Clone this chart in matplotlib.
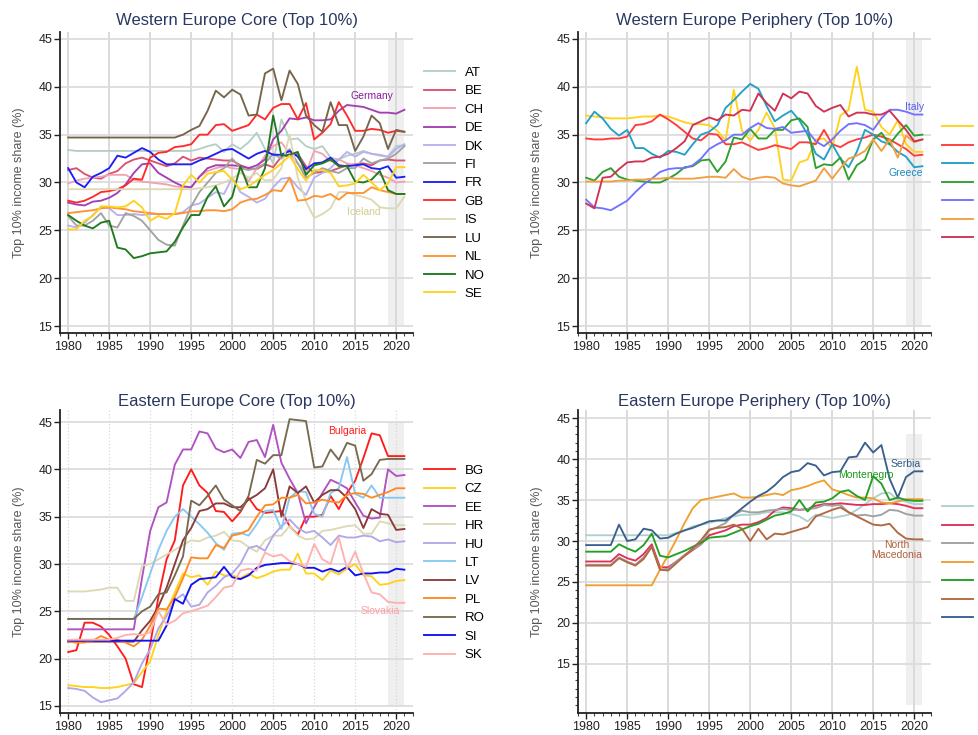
import matplotlib
matplotlib.use('Agg')
import matplotlib.pyplot as plt
from matplotlib.ticker import MultipleLocator

plt.rcParams['font.family'] = ['Liberation Sans', 'DejaVu Sans']

years = list(range(1980, 2022))

# ---- Western Europe Core ----
we_core_labels = ['AT', 'BE', 'CH', 'DE', 'DK', 'FI', 'FR', 'GB', 'IS', 'LU', 'NL', 'NO', 'SE']
AT = [33.4, 33.3, 33.3, 33.3, 33.3, 33.3, 33.3, 33.3, 33.3, 33.3,
      33.3, 33.3, 33.3, 33.3, 33.3, 33.3, 33.5, 33.8, 34.0, 33.2,
      34.0, 33.5, 34.2, 35.2, 33.5, 32.0, 36.6, 34.5, 34.6, 33.8,
      33.5, 33.8, 32.6, 32.4, 32.8, 33.0, 33.3, 33.0, 32.8, 32.7,
      33.8, 33.9]
BE = [31.3, 31.5, 30.9, 30.5, 30.4, 30.9, 31.2, 32.0, 32.4, 32.6,
      32.3, 32.0, 31.7, 32.0, 32.7, 32.3, 32.6, 32.5, 32.4, 32.3,
      32.3, 31.8, 31.5, 31.4, 31.9, 31.6, 32.7, 32.8, 33.0, 31.7,
      31.0, 31.1, 31.2, 31.5, 31.8, 31.9, 32.0, 31.8, 32.3, 32.4,
      32.3, 32.3]
CH = [29.9, 30.2, 30.4, 30.5, 30.6, 30.8, 30.8, 30.8, 30.3, 30.1,
      30.0, 29.9, 29.8, 29.6, 29.5, 29.5, 30.6, 31.2, 31.5, 31.7,
      31.5, 31.4, 30.1, 31.5, 32.8, 33.8, 34.2, 33.0, 32.0, 31.0,
      33.3, 33.0, 32.2, 32.4, 32.0, 31.8, 31.5, 31.2, 30.8, 30.5,
      30.0, 30.1]
DE = [27.9, 27.7, 27.6, 28.0, 28.1, 28.4, 28.9, 29.8, 31.0, 31.9,
      32.0, 31.0, 30.5, 30.0, 29.6, 29.5, 30.6, 31.5, 31.8, 31.8,
      31.8, 31.7, 31.5, 31.8, 32.4, 34.5, 35.4, 36.7, 36.6, 36.8,
      36.5, 36.5, 36.6, 37.5, 38.1, 38.0, 37.9, 37.6, 37.3, 37.3,
      37.2, 37.6]
DK = [25.5, 25.3, 25.8, 26.6, 27.4, 27.3, 26.6, 26.6, 26.7, 26.6,
      26.7, 26.7, 26.7, 26.7, 26.9, 27.6, 27.8, 28.4, 29.0, 28.8,
      30.5, 29.0, 28.5, 27.9, 28.3, 29.5, 30.4, 30.5, 29.5, 28.7,
      30.5, 31.0, 31.5, 32.4, 33.2, 32.7, 33.2, 33.0, 32.9, 32.7,
      33.5, 34.0]
FI = [26.5, 25.5, 25.5, 26.0, 26.8, 25.5, 25.3, 26.8, 26.5, 26.0,
      25.0, 24.0, 23.5, 23.4, 25.5, 27.5, 29.0, 30.0, 31.0, 31.5,
      32.5, 31.5, 31.3, 31.5, 32.0, 33.0, 32.5, 33.5, 32.0, 30.5,
      31.0, 31.5, 31.2, 31.0, 31.5, 31.5, 32.5, 32.0, 32.3, 32.5,
      33.0, 33.8]
FR = [31.5, 30.0, 29.5, 30.6, 31.0, 31.5, 32.8, 32.6, 33.1, 33.6,
      33.2, 32.4, 31.9, 31.9, 31.9, 31.9, 32.3, 32.6, 33.0, 33.4,
      33.5, 33.0, 32.5, 33.0, 33.3, 32.9, 32.9, 33.3, 32.7, 31.4,
      32.0, 32.1, 32.6, 31.8, 31.7, 31.8, 31.9, 31.5, 31.4, 31.7,
      30.5, 30.6]
GB = [28.1, 27.9, 28.1, 28.5, 29.0, 29.1, 29.3, 29.7, 30.4, 30.3,
      32.6, 33.1, 33.2, 33.7, 33.8, 34.0, 35.0, 35.0, 36.0, 36.1,
      35.4, 35.7, 36.0, 37.1, 36.6, 37.8, 38.2, 38.2, 36.6, 38.3,
      34.5, 35.2, 36.1, 38.4, 37.0, 35.4, 35.4, 35.6, 35.5, 35.2,
      35.4, 35.3]
IS = [29.3, 29.3, 29.3, 29.3, 29.3, 29.3, 29.3, 29.3, 29.3, 29.3,
      29.3, 29.3, 29.3, 29.3, 29.3, 29.3, 29.4, 29.5, 29.7, 30.0,
      30.4, 31.0, 30.5, 31.0, 30.2, 30.3, 31.5, 35.0, 30.5, 28.0,
      26.3, 26.7, 27.3, 29.0, 29.0, 28.7, 28.5, 28.2, 27.4, 27.3,
      27.3, 28.5]
LU = [34.7, 34.7, 34.7, 34.7, 34.7, 34.7, 34.7, 34.7, 34.7, 34.7,
      34.7, 34.7, 34.7, 34.7, 35.0, 35.5, 35.9, 37.5, 39.6, 38.9,
      39.7, 39.2, 37.0, 37.1, 41.4, 41.9, 38.6, 41.7, 40.3, 37.0,
      36.0, 35.3, 38.4, 36.0, 36.0, 33.3, 34.8, 37.0, 36.2, 33.5,
      35.5, 35.3]
NL = [26.8, 26.9, 27.0, 27.1, 27.3, 27.4, 27.3, 27.2, 27.0, 26.9,
      26.8, 26.7, 26.7, 26.7, 26.8, 27.0, 27.0, 27.1, 27.1, 27.0,
      27.2, 27.9, 28.2, 28.3, 28.7, 29.2, 29.1, 30.5, 28.1, 28.2,
      28.6, 28.5, 28.8, 28.2, 28.9, 28.9, 28.9, 29.5, 29.2, 29.0,
      28.8, 28.8]
NO = [26.6, 26.0, 25.5, 25.2, 25.8, 26.0, 23.2, 23.0, 22.1, 22.3,
      22.6, 22.7, 22.8, 23.8, 25.3, 26.6, 26.6, 28.5, 29.6, 27.5,
      28.5, 31.7, 29.5, 29.5, 31.5, 37.0, 32.8, 32.9, 33.2, 30.8,
      31.8, 32.0, 32.4, 31.7, 31.7, 30.1, 30.0, 30.3, 31.2, 29.2,
      28.8, 28.8]
SE = [25.1, 25.1, 26.0, 26.5, 27.5, 27.5, 27.4, 27.5, 28.1, 27.4,
      26.0, 26.5, 26.2, 26.8, 29.7, 30.8, 30.0, 30.9, 31.1, 31.2,
      30.3, 29.3, 29.6, 30.2, 30.8, 31.3, 32.0, 32.8, 31.4, 30.2,
      31.3, 31.3, 31.0, 29.6, 29.7, 29.9, 30.8, 30.0, 29.2, 29.9,
      31.6, 31.6]

# ---- Western Europe Periphery ----
we_peri_labels = ['CY', 'ES', 'GR', 'IE', 'IT', 'MT', 'PT']
CY = [37.0, 36.9, 36.8, 36.7, 36.7, 36.7, 36.8, 36.9, 36.9, 37.0,
      36.9, 36.6, 36.3, 36.1, 36.1, 36.0, 35.4, 34.4, 39.7, 35.4,
      34.4, 35.5, 37.3, 35.7, 30.3, 30.2, 32.1, 32.4, 34.5, 34.6,
      33.6, 37.0, 37.6, 42.1, 37.6, 37.4, 35.8, 35.0, 36.5, 34.0,
      33.2, 33.2]
ES = [34.6, 34.5, 34.5, 34.6, 34.6, 34.8, 36.0, 36.1, 36.4, 37.1,
      36.6, 36.0, 35.3, 34.6, 34.4, 35.1, 35.0, 34.0, 34.0, 34.2,
      33.8, 33.4, 33.6, 33.9, 33.7, 33.5, 34.2, 34.2, 34.0, 35.5,
      34.0, 33.7, 34.2, 34.5, 34.7, 35.0, 34.8, 34.5, 34.0, 33.5,
      32.8, 32.9]
GR = [36.2, 37.4, 36.7, 35.6, 34.9, 35.5, 33.6, 33.6, 33.0, 32.6,
      33.3, 33.2, 32.9, 34.0, 35.0, 35.3, 36.0, 37.8, 38.6, 39.5,
      40.3, 39.8, 38.0, 36.4, 37.0, 37.5, 36.5, 35.0, 33.0, 32.4,
      34.0, 32.5, 31.6, 33.2, 35.5, 35.0, 34.3, 34.0, 33.2, 32.7,
      31.6, 31.7]
IE = [30.5, 30.2, 31.1, 31.5, 30.6, 30.3, 30.2, 30.1, 30.0, 30.0,
      30.4, 30.9, 31.6, 31.7, 32.3, 32.4, 31.1, 32.2, 34.7, 34.5,
      35.6, 34.6, 34.6, 35.5, 35.5, 36.5, 36.7, 35.8, 31.5, 31.9,
      31.8, 32.6, 30.3, 31.8, 32.4, 34.5, 35.2, 34.0, 35.1, 36.0,
      34.9, 35.0]
IT = [28.2, 27.4, 27.3, 27.1, 27.6, 28.1, 29.0, 29.8, 30.4, 31.1,
      31.4, 31.5, 31.5, 31.8, 32.5, 33.5, 34.0, 34.4, 35.0, 35.0,
      35.7, 36.2, 35.7, 35.6, 35.8, 35.2, 35.3, 35.4, 34.3, 33.8,
      34.5, 35.4, 36.1, 36.2, 36.0, 35.5, 36.7, 37.6, 37.6, 37.4,
      37.1, 37.1]
MT = [30.1, 30.1, 30.1, 30.1, 30.2, 30.2, 30.3, 30.3, 30.4, 30.4,
      30.5, 30.4, 30.4, 30.4, 30.5, 30.6, 30.6, 30.5, 31.4, 30.6,
      30.3, 30.5, 30.6, 30.5, 29.9, 29.7, 29.6, 29.9, 30.2, 31.5,
      30.4, 31.5, 32.5, 32.8, 33.3, 34.5, 33.3, 34.5, 32.6, 34.9,
      34.2, 34.5]
PT = [27.8, 27.3, 30.5, 30.6, 31.4, 32.1, 32.2, 32.2, 32.6, 32.7,
      33.0, 33.6, 34.3, 36.0, 36.4, 36.8, 36.5, 37.1, 37.0, 37.6,
      37.5, 39.3, 38.3, 37.5, 39.3, 38.8, 39.5, 39.3, 38.0, 37.4,
      37.8, 38.1, 36.9, 37.3, 37.3, 37.1, 37.1, 37.5, 36.5, 35.5,
      34.3, 34.5]

# ---- Eastern Europe Core ----
ee_core_labels = ['BG', 'CZ', 'EE', 'HR', 'HU', 'LT', 'LV', 'PL', 'RO', 'SI', 'SK']
BG = [20.7, 20.9, 23.8, 23.8, 23.4, 22.5, 21.3, 20.0, 17.3, 17.0,
      21.5, 26.5, 30.5, 32.5, 38.3, 40.0, 38.3, 37.5, 35.6, 35.5,
      34.5, 35.5, 37.0, 35.8, 35.4, 35.5, 35.6, 34.0, 33.1, 35.0,
      35.0, 35.2, 37.2, 35.8, 37.5, 38.8, 41.2, 43.8, 43.6, 41.4,
      41.4, 41.4]
CZ = [17.2, 17.1, 17.0, 17.0, 16.9, 16.9, 17.0, 17.2, 17.4, 18.6,
      19.7, 22.5, 25.0, 27.0, 29.0, 28.6, 28.8, 27.8, 29.2, 28.8,
      28.8, 28.5, 29.0, 28.5, 28.8, 29.2, 29.4, 29.4, 31.1, 29.0,
      29.0, 28.3, 29.3, 28.9, 29.5, 30.0, 28.8, 28.7, 27.8, 27.9,
      28.2, 28.3]
EE = [23.1, 23.1, 23.1, 23.1, 23.1, 23.1, 23.1, 23.1, 23.1, 28.5,
      33.5, 36.0, 36.5, 40.5, 42.1, 42.1, 44.0, 43.8, 42.2, 41.8,
      42.1, 41.2, 42.9, 43.1, 41.3, 44.7, 40.7, 39.0, 37.5, 34.3,
      36.0, 37.5, 38.9, 38.5, 38.0, 36.5, 35.1, 34.8, 34.9, 40.0,
      39.3, 39.4]
HR = [27.1, 27.1, 27.1, 27.2, 27.3, 27.5, 27.5, 26.1, 26.1, 29.8,
      30.0, 30.5, 31.0, 31.5, 32.0, 32.5, 32.4, 32.8, 33.0, 33.4,
      32.5, 32.4, 31.8, 31.3, 32.5, 33.0, 33.0, 34.0, 33.0, 32.6,
      32.7, 33.5, 33.6, 33.8, 34.0, 34.1, 33.2, 33.2, 34.5, 34.3,
      34.1, 34.1]
HU = [16.9, 16.8, 16.6, 15.9, 15.4, 15.6, 15.8, 16.6, 17.5, 19.5,
      21.0, 23.2, 24.5, 26.2, 26.8, 25.5, 25.7, 27.0, 27.7, 28.6,
      29.0, 30.0, 31.7, 31.9, 31.4, 33.0, 34.0, 34.7, 33.8, 33.3,
      33.5, 32.8, 32.0, 33.0, 32.8, 32.8, 33.0, 32.9, 32.4, 32.6,
      32.3, 32.4]
LT = [24.2, 24.2, 24.2, 24.2, 24.2, 24.2, 24.2, 24.2, 24.2, 26.5,
      29.0, 31.5, 33.5, 35.0, 35.8, 35.0, 34.2, 33.3, 32.2, 31.5,
      33.2, 33.3, 33.0, 34.2, 35.6, 35.7, 33.7, 37.0, 37.7, 37.6,
      35.3, 35.0, 37.5, 38.0, 41.3, 37.4, 37.0, 38.3, 37.0, 37.0,
      37.0, 37.0]
LV = [21.8, 21.8, 21.8, 21.8, 21.8, 21.8, 21.8, 21.8, 21.8, 23.0,
      24.0, 25.5, 27.5, 30.0, 32.5, 33.8, 35.6, 35.8, 36.4, 36.4,
      36.0, 36.0, 36.8, 37.3, 38.0, 40.0, 35.0, 38.2, 37.5, 38.2,
      36.5, 37.3, 37.8, 37.8, 37.0, 35.8, 33.8, 35.8, 35.3, 35.2,
      33.6, 33.7]
PL = [21.8, 21.7, 21.7, 21.9, 22.4, 22.0, 22.0, 21.7, 21.3, 22.0,
      23.5, 25.3, 25.2, 26.5, 28.5, 30.7, 30.6, 30.6, 32.0, 31.7,
      33.0, 33.2, 33.6, 35.0, 36.2, 36.3, 37.0, 37.0, 37.3, 36.4,
      36.5, 36.8, 36.6, 36.5, 37.3, 37.5, 37.4, 37.0, 37.3, 37.6,
      38.0, 38.0]
RO = [24.2, 24.2, 24.2, 24.2, 24.2, 24.2, 24.2, 24.2, 24.2, 25.0,
      25.5, 26.8, 27.0, 28.8, 30.8, 36.7, 36.2, 37.2, 38.3, 36.8,
      36.2, 35.6, 37.2, 41.0, 40.6, 41.5, 41.5, 45.3, 45.2, 45.1,
      40.2, 40.3, 42.1, 41.0, 42.8, 42.5, 38.8, 39.5, 41.0, 41.1,
      41.1, 41.1]
SI = [21.9, 21.9, 21.9, 21.9, 21.9, 21.9, 21.9, 21.9, 21.9, 21.9,
      21.9, 21.9, 23.5, 26.3, 25.8, 27.8, 28.4, 28.5, 28.6, 29.7,
      28.6, 28.4, 28.8, 29.6, 29.9, 30.0, 30.1, 30.1, 30.0, 29.6,
      29.6, 29.2, 29.5, 29.2, 29.7, 28.8, 29.0, 29.0, 29.1, 29.1,
      29.5, 29.4]
SK = [22.0, 22.0, 22.0, 22.0, 22.0, 22.0, 22.2, 22.5, 22.6, 22.5,
      22.8, 25.0, 23.6, 24.0, 24.8, 25.0, 25.3, 25.6, 26.5, 27.5,
      27.7, 29.3, 29.5, 29.3, 31.2, 30.8, 31.0, 30.3, 30.0, 29.7,
      32.1, 30.5, 30.0, 32.8, 29.5, 31.3, 29.0, 27.0, 26.8, 26.0,
      25.9, 25.9]

# ---- Eastern Europe Periphery ----
ee_peri_labels = ['AL', 'BA', 'BY', 'MD', 'ME', 'MK', 'RS']
AL = [30.7, 30.7, 30.7, 30.7, 30.7, 30.7, 30.7, 30.7, 30.7, 30.7,
      30.7, 31.0, 31.3, 31.8, 32.0, 32.2, 32.5, 32.8, 33.0, 33.2,
      33.2, 33.3, 33.5, 33.5, 33.5, 33.3, 33.0, 32.4, 33.2, 33.0,
      32.8, 33.0, 33.2, 33.8, 34.5, 35.2, 35.8, 35.9, 35.0, 34.8,
      34.5, 34.5]
BA = [27.5, 27.5, 27.5, 27.5, 28.4, 27.9, 27.6, 28.4, 29.6, 26.8,
      26.8, 27.5, 28.2, 28.9, 29.6, 30.7, 31.0, 31.3, 31.8, 32.0,
      32.0, 32.3, 32.8, 33.7, 34.1, 34.0, 33.8, 33.9, 34.3, 34.5,
      34.5, 34.6, 34.5, 34.4, 34.4, 34.5, 34.5, 34.6, 34.5, 34.3,
      34.0, 34.0]
BY = [27.1, 27.1, 27.1, 27.1, 28.0, 27.5, 27.1, 28.0, 29.3, 26.5,
      26.6, 27.5, 28.3, 29.0, 29.6, 31.3, 31.7, 32.2, 33.2, 33.7,
      33.5, 33.5, 33.7, 33.8, 33.9, 33.8, 33.8, 33.9, 34.0, 34.4,
      34.3, 34.4, 33.5, 33.1, 33.2, 33.0, 33.2, 33.8, 33.7, 33.3,
      33.1, 33.1]
MD = [24.6, 24.6, 24.6, 24.6, 24.6, 24.6, 24.6, 24.6, 24.6, 26.5,
      28.3, 30.2, 32.2, 34.0, 35.0, 35.2, 35.4, 35.6, 35.8, 35.3,
      35.3, 35.4, 35.6, 35.8, 35.6, 36.2, 36.4, 36.7, 37.1, 37.4,
      36.3, 36.0, 35.6, 35.3, 35.3, 35.2, 34.7, 34.6, 34.8, 35.1,
      35.1, 35.1]
ME = [28.7, 28.7, 28.7, 28.7, 29.6, 29.1, 28.7, 29.5, 30.9, 28.2,
      28.0, 28.4, 28.8, 29.3, 29.8, 30.4, 30.5, 30.6, 31.0, 31.4,
      31.8, 32.1, 32.6, 33.1, 33.3, 33.6, 35.0, 33.6, 34.7, 34.8,
      35.2, 36.0, 36.2, 35.5, 35.0, 37.9, 37.0, 35.0, 35.3, 35.0,
      34.9, 34.9]
MK = [27.0, 27.0, 27.0, 27.0, 27.9, 27.4, 27.0, 27.8, 29.3, 26.5,
      26.4, 27.3, 28.2, 29.1, 30.1, 31.4, 31.6, 31.7, 32.0, 31.5,
      30.0, 31.5, 30.2, 30.9, 30.8, 31.1, 31.4, 31.7, 33.0, 33.4,
      33.8, 34.1, 33.5, 33.0, 32.5, 32.0, 31.9, 32.1, 31.0, 30.3,
      30.2, 30.2]
RS = [29.5, 29.5, 29.5, 29.5, 32.0, 30.0, 30.2, 31.5, 31.3, 30.3,
      30.4, 30.9, 31.3, 31.6, 32.0, 32.4, 32.5, 32.5, 33.2, 34.0,
      34.8, 35.5, 36.0, 36.8, 37.8, 38.4, 38.6, 39.5, 39.2, 38.0,
      38.4, 38.5, 40.2, 40.3, 42.0, 40.8, 41.7, 37.6, 35.3, 37.8,
      38.5, 38.5]

we_core_colors = ['#b5cfc5', '#d9536f', '#f2a3b3', '#a43fb4', '#b9b1ef', '#a3a3a3',
                  '#1f1ff5', '#ff2b2b', '#ddd9b3', '#76654a', '#ff9233', '#1f7a1f', '#ffd21c']
we_peri_colors = ['#ffd21c', '#ff3b3b', '#22a0c8', '#2f9f2f', '#7272ff', '#f0a040', '#d03252']
ee_core_colors = ['#ff1c1c', '#ffd21c', '#b052c2', '#ddd9b3', '#b0a8e8', '#88c8f0',
                  '#8b3a3a', '#ff8a22', '#786a50', '#1212f0', '#ffb0b0']
ee_peri_colors = ['#b0d0d0', '#e0305a', '#a0a0a0', '#f0a030', '#22a022', '#b06840', '#3a6090']

W, H = 979, 735
fig = plt.figure(figsize=(W / 100, H / 100), dpi=100)


def px_axes(left, top, right, bottom):
    return fig.add_axes([left / W, 1 - bottom / H, (right - left) / W, (bottom - top) / H])


def draw_panel(ax, title, labels, series, colors, ylim, shade, vgrid_style,
               legend_y, minor_y=False, title_pad=5):
    ax.set_axisbelow(True)
    ax.fill_between([2019, 2021], shade[0], shade[1], color='#efefef', lw=0, zorder=0.2)
    for lab, vals, col in zip(labels, series, colors):
        ax.plot(years, vals, color=col, lw=1.35, label=lab, zorder=2)
    ax.set_xlim(1979.0, 2022.05)
    ax.set_ylim(*ylim)
    ax.set_xticks(range(1980, 2021, 5))
    ax.set_yticks(range(15, 46, 5))
    ax.xaxis.set_minor_locator(MultipleLocator(1))
    if minor_y:
        ax.yaxis.set_minor_locator(MultipleLocator(1))
    ax.grid(axis='y', color='#dcdcdc', lw=1.3)
    ax.grid(axis='x', color='#d8d8d8', lw=1.3 if vgrid_style == '-' else 0.9, ls=vgrid_style)
    for s in ['top', 'right']:
        ax.spines[s].set_visible(False)
    for s in ['left', 'bottom']:
        ax.spines[s].set_color('#222222')
        ax.spines[s].set_linewidth(1.3)
    ax.tick_params(which='major', length=4, width=1, labelsize=9, colors='#222222', pad=1.5)
    ax.tick_params(which='minor', length=2, width=0.8, colors='#444444')
    ax.set_title(title, fontsize=12, color='#2a3760', pad=title_pad)
    ax.set_ylabel('Top 10% income share (%)', fontsize=9, color='#555555')
    ax.yaxis.set_label_coords(-0.1, 0.5)
    # the right-hand legends run past the figure edge, as in the source image
    ax.legend(loc='upper left', bbox_to_anchor=(1.03, legend_y), frameon=False,
              fontsize=9.5, handlelength=2.4, handletextpad=0.7, labelspacing=0.47,
              borderpad=0, borderaxespad=0)


ax1 = px_axes(60, 32, 413, 333)
draw_panel(ax1, 'Western Europe Core (Top 10%)', we_core_labels,
           [AT, BE, CH, DE, DK, FI, FR, GB, IS, LU, NL, NO, SE], we_core_colors,
           (14.27, 45.73), (15, 45), '-', 0.885)
ax1.text(2017.0, 39.0, 'Germany', color='#8b1a9b', fontsize=7.5, ha='center', va='center')
ax1.text(2016.0, 26.95, 'Iceland', color='#d4cc90', fontsize=7.5, ha='center', va='center')

ax2 = px_axes(578, 32, 931, 333)
draw_panel(ax2, 'Western Europe Periphery (Top 10%)', we_peri_labels,
           [CY, ES, GR, IE, IT, MT, PT], we_peri_colors,
           (14.27, 45.73), (15, 45), '-', 0.702)
ax2.text(2020.0, 37.9, 'Italy', color='#5a5af0', fontsize=7.5, ha='center', va='center')
ax2.text(2019.0, 31.0, 'Greece', color='#1a8ac0', fontsize=7.5, ha='center', va='center')

ax3 = px_axes(60, 410, 413, 713)
draw_panel(ax3, 'Eastern Europe Core (Top 10%)', ee_core_labels,
           [BG, CZ, EE, HR, HU, LT, LV, PL, RO, SI, SK], ee_core_colors,
           (14.26, 46.27), (15, 45), ':', 0.82, title_pad=3)
ax3.text(2014.0, 44.05, 'Bulgaria', color='#ff1a1a', fontsize=7.5, ha='center', va='center')
ax3.text(2018.0, 25.0, 'Slovakia', color='#ffa0a0', fontsize=7.5, ha='center', va='center')

ax4 = px_axes(578, 410, 931, 713)
draw_panel(ax4, 'Eastern Europe Periphery (Top 10%)', ee_peri_labels,
           [AL, BA, BY, MD, ME, MK, RS], ee_peri_colors,
           (9.02, 45.98), (10, 43), '-', 0.697, minor_y=True, title_pad=3)
ax4.text(2018.9, 39.4, 'Serbia', color='#2f5a8a', fontsize=7.5, ha='center', va='center')
ax4.text(2014.1, 38.1, 'Montenegro', color='#1a9a1a', fontsize=7.5, ha='center', va='center')
ax4.text(2017.9, 28.9, 'North\nMacedonia', color='#b0603a', fontsize=7.5, ha='center',
         va='center', linespacing=1.1)

fig.savefig('out.png', dpi=100)
